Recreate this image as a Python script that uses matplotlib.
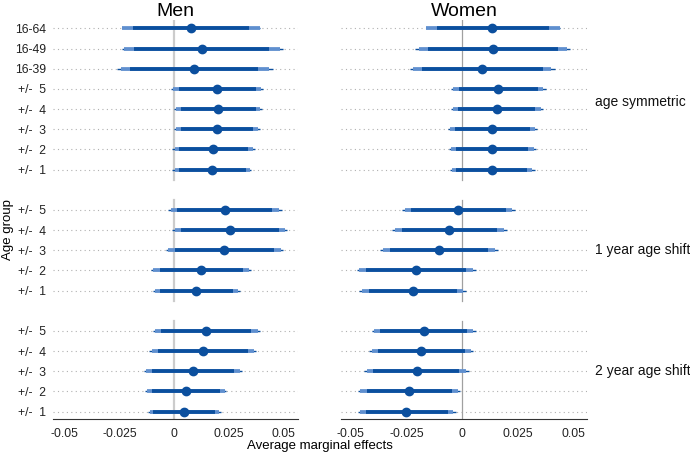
import numpy as np
import matplotlib.pyplot as plt

plt.rcParams["font.family"] = ["Liberation Sans", "DejaVu Sans"]

# row labels, top to bottom, per group
groups = ["age symmetric", "1 year age shift", "2 year age shift"]
group_rows = [
    ["16-64", "16-49", "16-39", "+/-  5", "+/-  4", "+/-  3", "+/-  2", "+/-  1"],
    ["+/-  5", "+/-  4", "+/-  3", "+/-  2", "+/-  1"],
    ["+/-  5", "+/-  4", "+/-  3", "+/-  2", "+/-  1"],
]

# Men
est_men = [0.0075, 0.0125, 0.009, 0.0196, 0.020, 0.0196, 0.0178, 0.0173,
           0.0234, 0.0254, 0.0229, 0.0124, 0.0099,
           0.0147, 0.013, 0.0086, 0.0052, 0.0044]
inner_lo_men = [-0.0188, -0.0183, -0.0201, 0.002, 0.003, 0.003, 0.0023, 0.002,
                0.0015, 0.0032, 0.0002, -0.0067, -0.0067,
                -0.006, -0.0075, -0.0102, -0.0102, -0.0095]
inner_hi_men = [0.034, 0.0435, 0.0385, 0.0372, 0.0372, 0.036, 0.0336, 0.0326,
                0.0448, 0.0479, 0.0456, 0.0315, 0.0268,
                0.0353, 0.0336, 0.0272, 0.0208, 0.0185]
mid_lo_men = [-0.024, -0.0228, -0.0242, -0.0005, 0.001, 0.001, 0.0003, 0.0003,
              -0.0014, 0.0002, -0.0026, -0.0095, -0.0088,
              -0.0088, -0.0103, -0.0127, -0.0123, -0.0112]
mid_hi_men = [0.0394, 0.0482, 0.0433, 0.0395, 0.0393, 0.0381, 0.0358, 0.0345,
              0.0478, 0.0506, 0.0486, 0.0342, 0.029,
              0.0382, 0.0364, 0.0299, 0.023, 0.0207]
outer_lo_men = [-0.024, -0.024, -0.0262, -0.0014, 0.0, 0.0, -0.0008, -0.0008,
                -0.0026, -0.0011, -0.0038, -0.0107, -0.0099,
                -0.0099, -0.0115, -0.0138, -0.0133, -0.0121]
outer_hi_men = [0.0394, 0.0495, 0.0453, 0.0405, 0.0402, 0.039, 0.0367, 0.0353,
                0.0491, 0.0517, 0.0498, 0.0353, 0.030,
                0.0394, 0.0375, 0.031, 0.0239, 0.0216]

# Women
est_women = [0.0134, 0.0137, 0.0089, 0.0163, 0.0157, 0.0134, 0.0134, 0.0134,
             -0.0017, -0.0057, -0.0104, -0.0208, -0.0221,
             -0.0172, -0.0183, -0.0205, -0.024, -0.0251]
inner_lo_women = [-0.0115, -0.0153, -0.018, -0.0014, -0.0017, -0.0032, -0.0027, -0.0027,
                  -0.0228, -0.027, -0.0326, -0.0432, -0.042,
                  -0.0367, -0.0376, -0.0402, -0.0429, -0.0432]
inner_hi_women = [0.0391, 0.0429, 0.0364, 0.0341, 0.0328, 0.0305, 0.0298, 0.0293,
                  0.0195, 0.0157, 0.0116, 0.0018, -0.0024,
                  0.0024, 0.0011, -0.0012, -0.0047, -0.0065]
mid_lo_women = [-0.0163, -0.0195, -0.0222, -0.0039, -0.004, -0.0053, -0.0049, -0.0046,
                -0.0257, -0.0301, -0.0356, -0.0462, -0.0449,
                -0.0394, -0.0405, -0.0428, -0.0458, -0.0459]
mid_hi_women = [0.044, 0.0471, 0.04, 0.0365, 0.0353, 0.0328, 0.0321, 0.0316,
                0.0224, 0.0188, 0.0147, 0.0049, 0.0005,
                0.005, 0.0039, 0.0017, -0.002, -0.0039]
outer_lo_women = [-0.0163, -0.021, -0.0236, -0.005, -0.005, -0.0062, -0.0059, -0.0054,
                  -0.027, -0.0314, -0.0369, -0.0474, -0.0462,
                  -0.0406, -0.0417, -0.044, -0.047, -0.047]
outer_hi_women = [0.044, 0.0486, 0.0417, 0.0376, 0.0364, 0.0338, 0.0331, 0.0326,
                  0.0237, 0.0202, 0.016, 0.0062, 0.0017,
                  0.0062, 0.0051, 0.0029, -0.0009, -0.0029]

xticks = [-0.05, -0.025, 0, 0.025, 0.05]
xticklabels = ["-0.05", "-0.025", "0", "0.025", "0.05"]

DARK = "#0b4f9e"
LIGHT = "#5f8fcf"

# y positions: one blank row between groups
ypos, ylabels, group_span = [], [], []
y = 0
for rows in group_rows:
    start = y
    for lab in rows:
        ypos.append(y)
        ylabels.append(lab)
        y += 1
    group_span.append((start, y - 1))
    y += 1
ypos = np.array(ypos)


def draw_panel(ax, est, ilo, ihi, mlo, mhi, olo, ohi, zero_color, zero_lw):
    for yy in ypos:
        ax.axhline(yy, color="#b0b0b0", lw=0.8, ls=(0, (1, 3)), zorder=0)
    for k, (a, b) in enumerate(group_span):
        top = a - 0.42 if k == 0 else a - 0.5
        bot = b + 0.5 if k < len(group_span) - 1 else b + 0.45
        ax.plot([0, 0], [top, bot], color=zero_color, lw=zero_lw, zorder=1)
    ax.hlines(ypos, olo, ohi, color=DARK, lw=1.0, zorder=2)
    ax.hlines(ypos, mlo, mhi, color=LIGHT, lw=2.7, zorder=3)
    ax.hlines(ypos, ilo, ihi, color=DARK, lw=2.7, zorder=4)
    ax.plot(est, ypos, "o", color=DARK, ms=6, zorder=5)

    ax.set_ylim(ypos[-1] + 0.38, -0.42)
    ax.set_xticks(xticks)
    ax.set_xticklabels(xticklabels)
    for s in ["left", "right", "top"]:
        ax.spines[s].set_visible(False)
    ax.spines["bottom"].set_color("#333333")
    ax.tick_params(axis="both", length=0, labelsize=8.8, colors="#222222")
    ax.tick_params(axis="x", pad=6)


fig = plt.figure(figsize=(6.9, 4.58), dpi=100, facecolor="white")
ax1 = fig.add_axes([0.077, 0.0845, 0.355, 0.872])
ax2 = fig.add_axes([0.494, 0.0845, 0.357, 0.872])

draw_panel(ax1, est_men, inner_lo_men, inner_hi_men, mid_lo_men, mid_hi_men,
           outer_lo_men, outer_hi_men, "#cccccc", 1.6)
draw_panel(ax2, est_women, inner_lo_women, inner_hi_women, mid_lo_women, mid_hi_women,
           outer_lo_women, outer_hi_women, "#a0a0a0", 0.9)

ax1.set_xlim(-0.0553, 0.0566)
ax2.set_xlim(-0.0545, 0.0562)

ax1.set_yticks(ypos)
ax1.set_yticklabels(ylabels)
ax1.tick_params(axis="y", pad=5)
ax2.set_yticks([])

ax1.set_title("Men", fontsize=14, pad=3)
ax2.set_title("Women", fontsize=14, pad=3)

centers = [3.65, 11, 17]
for txt, c in zip(groups, centers):
    ax2.text(1.03, c, txt, transform=ax2.get_yaxis_transform(), fontsize=10,
             va="center", ha="left", color="#111111")

fig.text(0.463, 0.026, "Average marginal effects", ha="center", va="center", fontsize=9.5)
fig.text(0.012, 0.498, "Age group", rotation=90, ha="center", va="center", fontsize=9.5)

fig.savefig("out.png", dpi=100, facecolor="white")
plt.close(fig)
